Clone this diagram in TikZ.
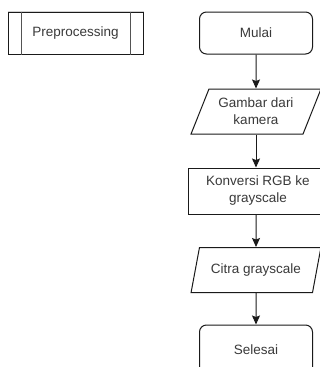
\documentclass[tikz,border=0pt]{standalone}
\usepackage{fontspec}
\setmainfont{Liberation Sans}
\usetikzlibrary{shapes.geometric,arrows.meta}
\definecolor{linec}{HTML}{1A1A1A}
\definecolor{textc}{HTML}{3A3A3A}
\tikzset{
  base/.style={draw=linec, line width=1pt, fill=white, text=textc,
    font=\fontsize{13.5}{17}\selectfont, align=center, inner sep=0pt},
  terminal/.style={base, rounded corners=7pt, minimum width=113pt, minimum height=42pt},
  process/.style={base, rectangle, minimum width=140pt, minimum height=46pt},
  io/.style={base, trapezium, trapezium left angle=62, trapezium right angle=118,
    trapezium stretches=true, minimum width=130pt, minimum height=45pt},
  flow/.style={draw=linec, line width=1pt, -{Stealth[length=9pt,width=8pt,inset=1.5pt]}}
}
\begin{document}
\begin{tikzpicture}[x=1pt,y=-1pt]
  \useasboundingbox (0,0) rectangle (320,367);
  \clip (0,0) rectangle (320,367);
  % predefined process box, its top edge only faintly drawn
  \node[base, rectangle, minimum width=135pt, minimum height=42pt] (pre) at (75.5,33) {Preprocessing};
  \draw[draw=linec!20, line width=1pt] (pre.north west) -- (pre.north east);
  \draw[draw=linec!75, line width=1pt] (pre.north west) ++(14,0) coordinate (pl1) -- (pl1 |- pre.south);
  \draw[draw=linec!75, line width=1pt] (pre.north east) ++(-13,0) coordinate (pr1) -- (pr1 |- pre.south);
  % main flow
  \node[terminal] (mulai) at (256,33) {Mulai};
  \node[io] (gambar) at (256,111.5) {Gambar dari\\kamera};
  \node[process] (konv) at (258,191) {Konversi RGB ke\\grayscale};
  \node[io] (citra) at (256,270) {Citra grayscale};
  \node[terminal, minimum height=50pt] (selesai) at (256,350) {Selesai};
  \draw[flow] (mulai) -- (gambar);
  \draw[flow] (gambar) -- (gambar |- konv.north);
  \draw[flow] (gambar |- konv.south) -- (citra);
  \draw[flow] (citra) -- (selesai);
\end{tikzpicture}
\end{document}
